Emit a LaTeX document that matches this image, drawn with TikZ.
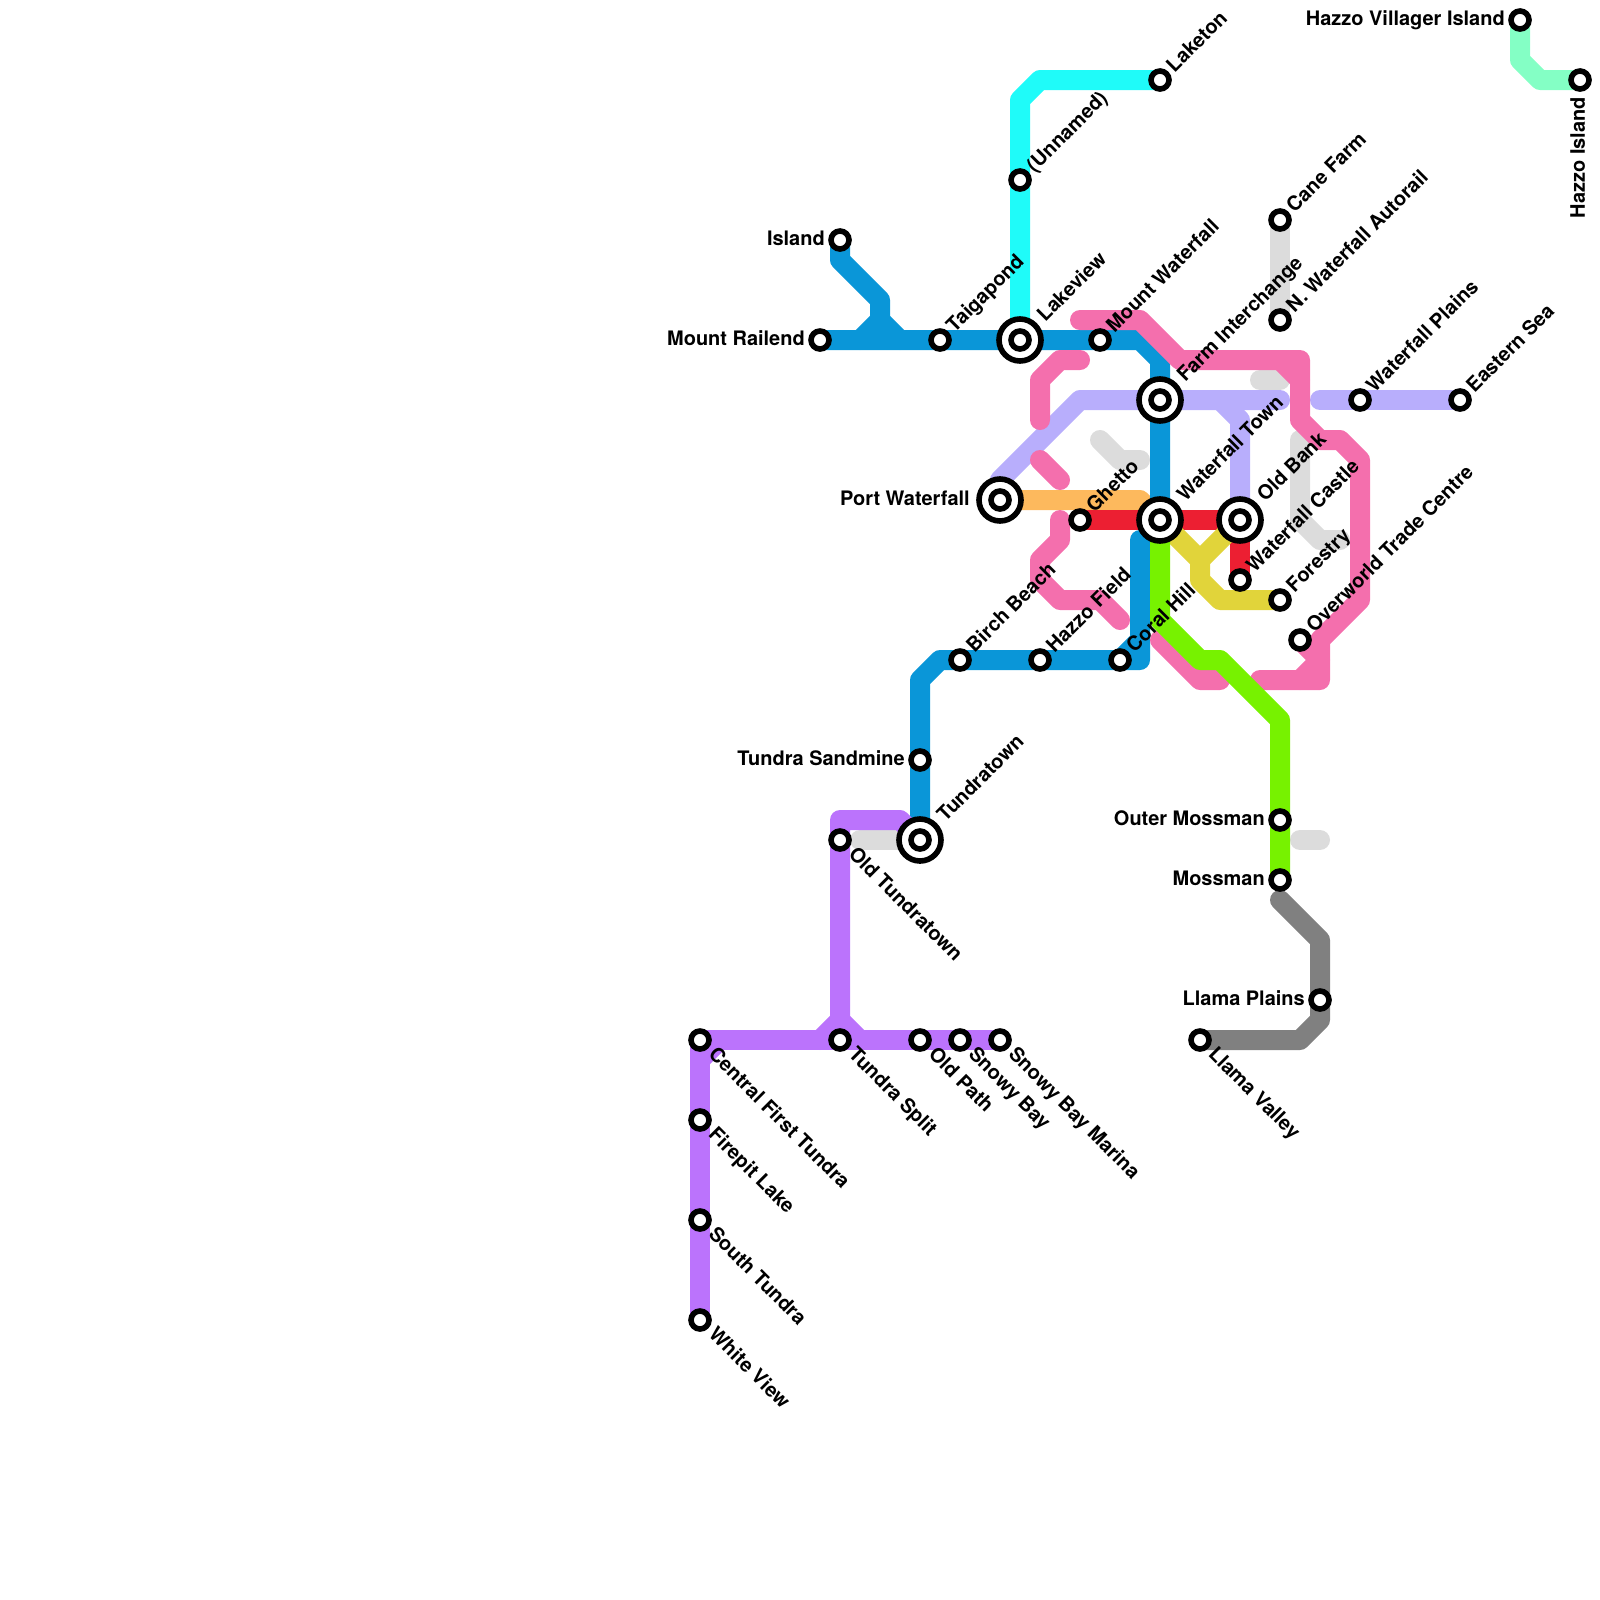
\documentclass[tikz,border=0pt]{standalone}
\usepackage{fontspec}
\setmainfont{TeX Gyre Heros}
\usepackage{tikz}
\usetikzlibrary{positioning, calc}
\pgfdeclarelayer{lines}
\pgfsetlayers{lines,main}
\definecolor{col_blue}{HTML}{0A96D8}
\definecolor{col_cyan}{HTML}{1FFBF9}
\definecolor{col_pink}{HTML}{F46FAD}
\definecolor{col_lav}{HTML}{B8AEFC}
\definecolor{col_grey}{HTML}{DCDCDC}
\definecolor{col_orange}{HTML}{FDB95D}
\definecolor{col_red}{HTML}{EC1F32}
\definecolor{col_yellow}{HTML}{E1D43A}
\definecolor{col_green}{HTML}{77F200}
\definecolor{col_dark}{HTML}{808080}
\definecolor{col_purple}{HTML}{BB73FC}
\definecolor{col_mint}{HTML}{84FFC5}
\tikzset{
    metro_line/.style={line width=0.5cm, line cap=round, line join=round},
    line_blue/.style={metro_line, draw=col_blue},
    line_cyan/.style={metro_line, draw=col_cyan},
    line_pink/.style={metro_line, draw=col_pink},
    line_lav/.style={metro_line, draw=col_lav},
    line_grey/.style={metro_line, draw=col_grey},
    line_orange/.style={metro_line, draw=col_orange},
    line_red/.style={metro_line, draw=col_red},
    line_yellow/.style={metro_line, draw=col_yellow},
    line_green/.style={metro_line, draw=col_green},
    line_dark/.style={metro_line, draw=col_dark},
    line_purple/.style={metro_line, draw=col_purple},
    line_mint/.style={metro_line, draw=col_mint},
    stn_small/.style={
        circle, draw=black, fill=white, line width=0.14cm,
        minimum size=0.45cm, inner sep=0pt
    },
    stn_big/.style={stn_small, minimum size=1.05cm},
    lbl/.style={font=\fontsize{14.2pt}{16pt}\selectfont\bfseries, text=black, inner sep=0pt},
    lbl_ne/.style={lbl, rotate=45, anchor=mid west, xshift=0.37cm, yshift=-0.05cm},
    lbl_ne_big/.style={lbl, rotate=45, anchor=mid west, xshift=0.75cm, yshift=-0.05cm},
    lbl_se/.style={lbl, rotate=-45, anchor=mid west, xshift=0.4cm, yshift=-0.05cm},
    lbl_w/.style={lbl, anchor=mid east, xshift=-0.375cm, yshift=-0.05cm},
    lbl_w_big/.style={lbl, anchor=mid east, xshift=-0.75cm, yshift=-0.05cm},
    lbl_v/.style={lbl, rotate=90, anchor=mid east, xshift=-0.42cm, yshift=-0.03cm}
}
\begin{document}
\begin{tikzpicture}[x=0.5cm, y=-0.5cm]

    \useasboundingbox (0,0) rectangle (80,80);

    % stations
    \node[stn_small] (island) at (42,12) {};
    \node[stn_small] (mount_railend) at (41,17) {};
    \node[stn_small] (taigapond) at (47,17) {};
    \node[stn_big] (lakeview_o) at (51,17) {};
    \node[stn_small] (lakeview) at (51,17) {};
    \node[stn_small] (mount_waterfall) at (55,17) {};
    \node[stn_big] (farm_o) at (58,20) {};
    \node[stn_small] (farm) at (58,20) {};
    \node[stn_big] (wtown_o) at (58,26) {};
    \node[stn_small] (wtown) at (58,26) {};
    \node[stn_big] (old_bank_o) at (62,26) {};
    \node[stn_small] (old_bank) at (62,26) {};
    \node[stn_big] (port_o) at (50,25) {};
    \node[stn_small] (port) at (50,25) {};
    \node[stn_small] (ghetto) at (54,26) {};
    \node[stn_small] (wcastle) at (62,29) {};
    \node[stn_small] (forestry) at (64,30) {};
    \node[stn_small] (overworld) at (65,32) {};
    \node[stn_small] (birch) at (48,33) {};
    \node[stn_small] (hazzo_field) at (52,33) {};
    \node[stn_small] (coral) at (56,33) {};
    \node[stn_small] (sandmine) at (46,38) {};
    \node[stn_big] (tundratown_o) at (46,42) {};
    \node[stn_small] (tundratown) at (46,42) {};
    \node[stn_small] (old_tundra) at (42,42) {};
    \node[stn_small] (central) at (35,52) {};
    \node[stn_small] (split) at (42,52) {};
    \node[stn_small] (old_path) at (46,52) {};
    \node[stn_small] (snowy) at (48,52) {};
    \node[stn_small] (marina) at (50,52) {};
    \node[stn_small] (firepit) at (35,56) {};
    \node[stn_small] (south) at (35,61) {};
    \node[stn_small] (white_view) at (35,66) {};
    \node[stn_small] (llama_valley) at (60,52) {};
    \node[stn_small] (llama_plains) at (66,50) {};
    \node[stn_small] (mossman) at (64,44) {};
    \node[stn_small] (outer_moss) at (64,41) {};
    \node[stn_small] (laketon) at (58,4) {};
    \node[stn_small] (unnamed) at (51,9) {};
    \node[stn_small] (cane) at (64,11) {};
    \node[stn_small] (autorail) at (64,16) {};
    \node[stn_small] (plains) at (68,20) {};
    \node[stn_small] (eastern) at (73,20) {};
    \node[stn_small] (villager) at (76,1) {};
    \node[stn_small] (hazzo_isl) at (79,4) {};

    % labels
    \node[lbl_w] (island_l) at (island) {Island};
    \node[lbl_w] (mount_railend_l) at (mount_railend) {Mount Railend};
    \node[lbl_ne] (taigapond_l) at (taigapond) {Taigapond};
    \node[lbl_ne_big] (lakeview_l) at (lakeview) {Lakeview};
    \node[lbl_ne] (mount_waterfall_l) at (mount_waterfall) {Mount Waterfall};
    \node[lbl_ne_big] (farm_l) at (farm) {Farm Interchange};
    \node[lbl_ne_big] (wtown_l) at (wtown) {Waterfall Town};
    \node[lbl_ne_big] (old_bank_l) at (old_bank) {Old Bank};
    \node[lbl_w_big] (port_l) at (port) {Port Waterfall};
    \node[lbl_ne] (ghetto_l) at (ghetto) {Ghetto};
    \node[lbl_ne] (wcastle_l) at (wcastle) {Waterfall Castle};
    \node[lbl_ne] (forestry_l) at (forestry) {Forestry};
    \node[lbl_ne] (overworld_l) at (overworld) {Overworld Trade Centre};
    \node[lbl_ne] (birch_l) at (birch) {Birch Beach};
    \node[lbl_ne] (hazzo_field_l) at (hazzo_field) {Hazzo Field};
    \node[lbl_ne] (coral_l) at (coral) {Coral Hill};
    \node[lbl_w] (sandmine_l) at (sandmine) {Tundra Sandmine};
    \node[lbl_ne_big] (tundratown_l) at (tundratown) {Tundratown};
    \node[lbl_se] (old_tundra_l) at (old_tundra) {Old Tundratown};
    \node[lbl_se] (central_l) at (central) {Central First Tundra};
    \node[lbl_se] (split_l) at (split) {Tundra Split};
    \node[lbl_se] (old_path_l) at (old_path) {Old Path};
    \node[lbl_se] (snowy_l) at (snowy) {Snowy Bay};
    \node[lbl_se] (marina_l) at (marina) {Snowy Bay Marina};
    \node[lbl_se] (firepit_l) at (firepit) {Firepit Lake};
    \node[lbl_se] (south_l) at (south) {South Tundra};
    \node[lbl_se] (white_view_l) at (white_view) {White View};
    \node[lbl_se] (llama_valley_l) at (llama_valley) {Llama Valley};
    \node[lbl_w] (llama_plains_l) at (llama_plains) {Llama Plains};
    \node[lbl_w] (mossman_l) at (mossman) {Mossman};
    \node[lbl_w] (outer_moss_l) at (outer_moss) {Outer Mossman};
    \node[lbl_ne] (laketon_l) at (laketon) {Laketon};
    \node[lbl_ne] (unnamed_l) at (unnamed) {(Unnamed)};
    \node[lbl_ne] (cane_l) at (cane) {Cane Farm};
    \node[lbl_ne] (autorail_l) at (autorail) {N. Waterfall Autorail};
    \node[lbl_ne] (plains_l) at (plains) {Waterfall Plains};
    \node[lbl_ne] (eastern_l) at (eastern) {Eastern Sea};
    \node[lbl_w] (villager_l) at (villager) {Hazzo Villager Island};
    \node[lbl_v] (hazzo_isl_l) at (hazzo_isl) {Hazzo Island};

    % free ends and junctions
    \coordinate (isl_fork) at (44,16);
    \coordinate (blue_end) at (57,27);
    \coordinate (blue_fork) at (57,32);
    \coordinate (purple_fork) at (42,51);
    \coordinate (pink_top) at (54,16);
    \coordinate (pink_bot) at (63,34);
    \coordinate (pink_fork) at (66,33);
    \coordinate (pink_a1) at (54,18);
    \coordinate (pink_a2) at (52,21);
    \coordinate (pink_b1) at (52,23);
    \coordinate (pink_b2) at (53,24);
    \coordinate (pink_c1) at (53,26);
    \coordinate (pink_c2) at (56,31);
    \coordinate (pink_d1) at (58,32);
    \coordinate (pink_d2) at (61,34);
    \coordinate (lav_start) at (50,24);
    \coordinate (lav_end) at (64,20);
    \coordinate (lav_two) at (66,20);
    \coordinate (grey_a1) at (63,19);
    \coordinate (grey_a2) at (64,19);
    \coordinate (grey_b1) at (55,22);
    \coordinate (grey_b2) at (57,23);
    \coordinate (grey_c1) at (65,22);
    \coordinate (grey_c2) at (67,27);
    \coordinate (grey_d1) at (43,42);
    \coordinate (grey_e1) at (65,42);
    \coordinate (grey_e2) at (66,42);
    \coordinate (dark_start) at (64,45);

    \begin{pgfonlayer}{lines}
        \draw[line_grey] (cane.center) -- (autorail.center);
        \draw[line_grey] (grey_a1) -- (grey_a2);
        \draw[line_grey] (grey_b1) -- (56,23) -- (grey_b2);
        \draw[line_grey] (grey_c1) -- (65,26) -- (66,27) -- (grey_c2);
        \draw[line_grey] (grey_d1) -- (tundratown.center);
        \draw[line_grey] (grey_e1) -- (grey_e2);

        \draw[line_cyan] (lakeview.center) -- (51,5) -- (52,4) -- (laketon.center);
        \draw[line_orange] (port.center) -- (57,25) -- (wtown.center);
        \draw[line_lav] (lav_start) -- (54,20) -- (lav_end);
        \draw[line_lav] (61,20) -- (62,21) -- (old_bank.center);
        \draw[line_lav] (lav_two) -- (eastern.center);

        \draw[line_blue] (mount_railend.center) -- (57,17) -- (58,18) -- (wtown.center);
        \draw[line_blue] (island.center) -- (42,13) -- (44,15) -- (isl_fork) -- (43,17);
        \draw[line_blue] (isl_fork) -- (45,17);
        \draw[line_blue] (tundratown.center) -- (46,34) -- (47,33) -- (57,33) -- (blue_end);
        \draw[line_blue] (blue_fork) -- (coral.center);

        \draw[line_pink] (pink_top) -- (57,16) -- (59,18) -- (65,18) -- (65,21) -- (66,22)
            -- (67,22) -- (68,23) -- (68,30) -- (66,32) -- (66,34) -- (pink_bot);
        \draw[line_pink] (64,18) -- (65,19);
        \draw[line_pink] (pink_fork) -- (65,34);
        \draw[line_pink] (overworld.center) -- (pink_fork);
        \draw[line_pink] (pink_a1) -- (53,18) -- (52,19) -- (pink_a2);
        \draw[line_pink] (pink_b1) -- (pink_b2);
        \draw[line_pink] (pink_c1) -- (53,27) -- (52,28) -- (52,29) -- (53,30) -- (55,30) -- (pink_c2);
        \draw[line_pink] (pink_d1) -- (60,34) -- (pink_d2);

        \draw[line_red] (ghetto.center) -- (old_bank.center) -- (wcastle.center);
        \draw[line_yellow] (wtown.center) -- (60,28) -- (60,29) -- (61,30) -- (forestry.center);
        \draw[line_yellow] (old_bank.center) -- (60,28);
        \draw[line_green] (wtown.center) -- (58,31) -- (60,33) -- (61,33) -- (64,36) -- (mossman.center);
        \draw[line_dark] (dark_start) -- (66,47) -- (66,51) -- (65,52) -- (llama_valley.center);

        \draw[line_purple] (tundratown.center) -- (45,41) -- (42,41) -- (purple_fork) -- (41,52);
        \draw[line_purple] (purple_fork) -- (43,52);
        \draw[line_purple] (white_view.center) -- (central.center) -- (marina.center);
        \draw[line_purple] (35,53) -- (36,52);
        \draw[line_mint] (villager.center) -- (76,3) -- (77,4) -- (hazzo_isl.center);
    \end{pgfonlayer}

\end{tikzpicture}
\end{document}
